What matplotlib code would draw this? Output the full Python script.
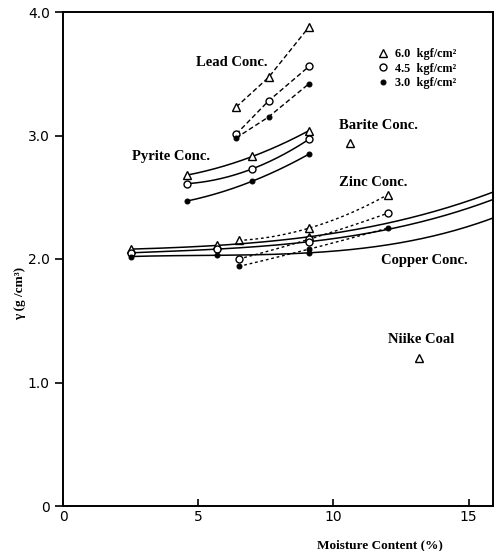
import numpy as np
import matplotlib
matplotlib.use("Agg")
import matplotlib.pyplot as plt
from matplotlib.lines import Line2D

# ---------------- data ----------------
pressures = ["6.0", "4.5", "3.0"]

lead_x = [6.4, 7.6, 9.1]
lead_y = {"6.0": [3.23, 3.47, 3.88], "4.5": [3.01, 3.28, 3.56], "3.0": [2.98, 3.15, 3.42]}

pyrite_x = [4.6, 7.0, 9.1]
pyrite_y = {"6.0": [2.68, 2.83, 3.04], "4.5": [2.61, 2.73, 2.97], "3.0": [2.47, 2.63, 2.85]}

zinc_x = [6.5, 9.1, 12.0]
zinc_y = {"6.0": [2.15, 2.25, 2.52], "4.5": [2.00, 2.16, 2.37], "3.0": [1.94, 2.08, 2.25]}

copper_x = [2.5, 5.7, 9.1, 16.0]
copper_y = {"6.0": [2.08, 2.11, 2.18, 2.55], "4.5": [2.05, 2.08, 2.14, 2.49], "3.0": [2.02, 2.03, 2.05, 2.34]}

barite_x, barite_y = [10.6], [2.94]
niike_x, niike_y = [13.15], [1.20]

x_ticks = [0, 5, 10, 15]
y_ticks = [0, 1.0, 2.0, 3.0, 4.0]
y_ticklabels = ["0", "1.0", "2.0", "3.0", "4.0"]

labels = [("Lead Conc.", 4.9, 3.59), ("Pyrite Conc.", 2.55, 2.83), ("Barite Conc.", 10.2, 3.08),
          ("Zinc Conc.", 10.2, 2.62), ("Copper Conc.", 11.75, 1.99), ("Niike Coal", 12.0, 1.35)]

# ---------------- style ----------------
mstyle = {
    "6.0": dict(marker="^", mfc="white", mec="black", ms=5.5, mew=1.0),
    "4.5": dict(marker="o", mfc="white", mec="black", ms=5.0, mew=1.0),
    "3.0": dict(marker="o", mfc="black", mec="black", ms=3.5, mew=0.8),
}

fig = plt.figure(figsize=(4.96, 5.51), dpi=100)
ax = fig.add_axes([63/496, 1-506/551, 430/496, 494/551])


def smooth(xs, ys, n=200):
    """Smooth polynomial curve passing through the given points."""
    c = np.polyfit(xs, ys, len(xs) - 1)
    xx = np.linspace(min(xs), max(xs), n)
    return xx, np.polyval(c, xx)


for p in pressures:
    # lead - dashed
    ax.plot(lead_x, lead_y[p], color="black", lw=1.0, ls=(0, (3.5, 2)), **mstyle[p])
    # pyrite - solid smooth
    xx, yy = smooth(pyrite_x, pyrite_y[p])
    ax.plot(xx, yy, color="black", lw=1.1)
    ax.plot(pyrite_x, pyrite_y[p], ls="none", **mstyle[p])
    # zinc - short dashes
    xx, yy = smooth(zinc_x, zinc_y[p])
    ax.plot(xx, yy, color="black", lw=1.0, ls=(0, (2, 2)))
    ax.plot(zinc_x, zinc_y[p], ls="none", **mstyle[p])
    # copper - solid smooth
    xx, yy = smooth(copper_x, copper_y[p])
    ax.plot(xx, yy, color="black", lw=1.1)
    ax.plot(copper_x, copper_y[p], ls="none", clip_on=True, **mstyle[p])

ax.plot(barite_x, barite_y, ls="none", **mstyle["6.0"])
ax.plot(niike_x, niike_y, ls="none", **mstyle["6.0"])

for txt, x, y in labels:
    ax.text(x, y, txt, fontsize=10.5, fontweight="bold", family="Liberation Serif",
            ha="left", va="center")

handles = [Line2D([], [], ls="none", **mstyle[p]) for p in pressures]
leg = ax.legend(handles, [f"{p}  kgf/cm²" for p in pressures], loc="upper left",
                bbox_to_anchor=(0.707, 0.944), frameon=False, handletextpad=0.35,
                handlelength=1.2, labelspacing=0.2, borderpad=0.2,
                prop=dict(family="Liberation Serif", weight="bold", size=8.8))

ax.set_xlim(0, 15.9)
ax.set_ylim(0, 4.0)
ax.set_xticks(x_ticks)
ax.set_xticklabels([str(t) for t in x_ticks])
ax.set_yticks(y_ticks)
ax.set_yticklabels(y_ticklabels)
ax.tick_params(axis="x", direction="in", length=5, width=1.2, labelsize=10, pad=3)
ax.tick_params(axis="y", direction="out", length=6, width=1.2, labelsize=10)
for s in ax.spines.values():
    s.set_linewidth(1.4)

fig.text(20/496, 1-293/551, "γ (g /cm³)", rotation=90, ha="center", va="center",
         fontsize=9.5, fontweight="bold", family="Liberation Serif")
fig.text(380/496, 1-545/551, "Moisture Content (%)", ha="center", va="center",
         fontsize=9.5, fontweight="bold", family="Liberation Serif")

fig.savefig("out.png", dpi=100)
